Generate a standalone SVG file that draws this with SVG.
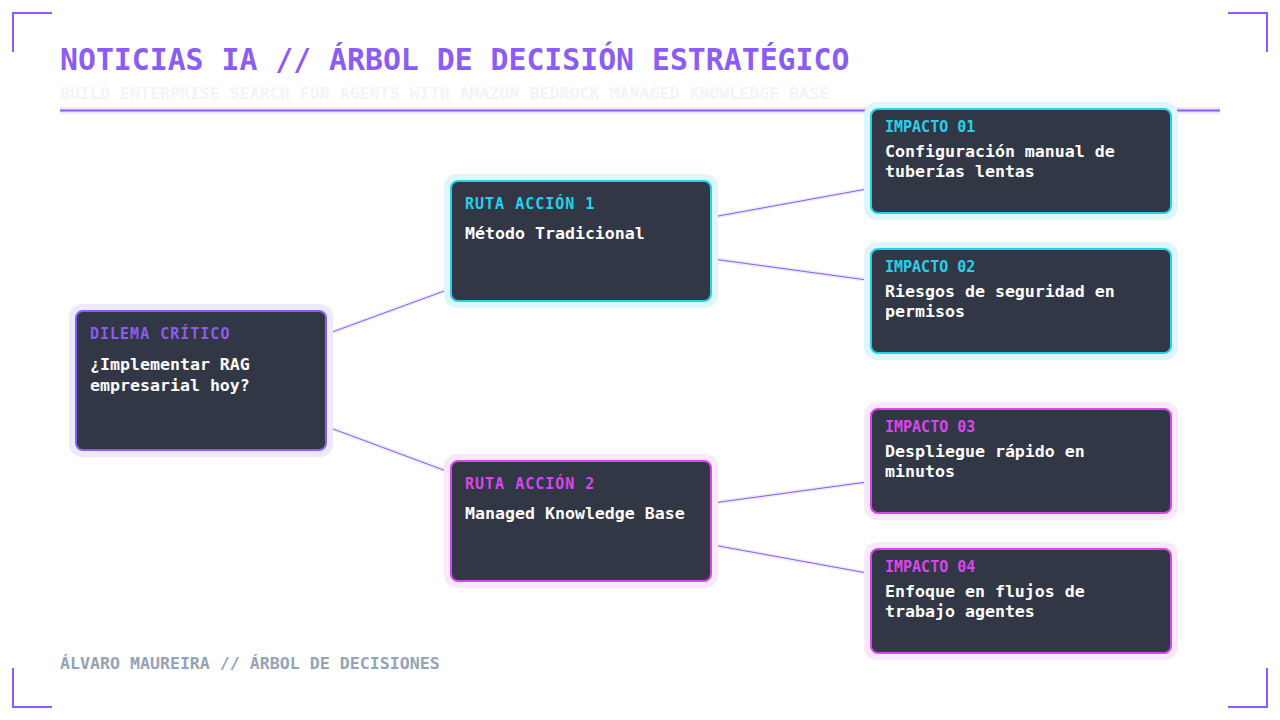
<svg xmlns="http://www.w3.org/2000/svg" width="1280" height="720" viewBox="0 0 1280 720">
<style>
text{font-family:"DejaVu Sans Mono","Liberation Mono",monospace;font-weight:bold}
.title{font-size:29.8px;fill:#8b5cf6}
.sub{font-size:16.6px;fill:#f3f4f7}
.foot{font-size:16.6px;fill:#94a3b8}
.lbl{font-size:15px;letter-spacing:1px}
.ilbl{font-size:15px}
.body{font-size:16.6px;fill:#ffffff}
.box{fill:#313745;stroke-width:2}
.p .box{stroke:#8b5cf6}.p .glow{fill:#ede9fe}.p .lbl,.p .ilbl{fill:#8b5cf6}
.c .box{stroke:#22d3ee}.c .glow{fill:#dff7fc}.c .lbl,.c .ilbl{fill:#22d3ee}
.m .box{stroke:#d946ef}.m .glow{fill:#fae8ff}.m .lbl,.m .ilbl{fill:#d946ef}
.corner{fill:none;stroke:#8b5cf6;stroke-width:2}
.cg{stroke:#ede9fe;stroke-width:4;fill:none}
.cl{stroke:#8b5cf6;stroke-width:1;fill:none}
</style>
<rect width="1280" height="720" fill="#ffffff"/>
<g id="corners">
<path class="corner" d="M13,52 V13 H52"/>
<path class="corner" d="M1228,13 H1267 V52"/>
<path class="corner" d="M13,668 V707 H52"/>
<path class="corner" d="M1267,668 V707 H1228"/>
</g>
<g id="header">
<text class="title" x="60" y="70">NOTICIAS IA // ÁRBOL DE DECISIÓN ESTRATÉGICO</text>
<text class="sub" x="60" y="99">BUILD ENTERPRISE SEARCH FOR AGENTS WITH AMAZON BEDROCK MANAGED KNOWLEDGE BASE</text>
<line x1="60" y1="110.5" x2="1220" y2="110.5" stroke="#ede9fe" stroke-width="7"/>
<line x1="60" y1="110.5" x2="1220" y2="110.5" stroke="#8b5cf6" stroke-width="2"/>
</g>
<g id="connectors">
<path class="cg" d="M201,380 L581,241 M201,380 L581,521 M581,241 L1021,161 M581,241 L1021,301 M581,521 L1021,461 M581,521 L1021,601"/>
<path class="cl" d="M201,380 L581,241 M201,380 L581,521 M581,241 L1021,161 M581,241 L1021,301 M581,521 L1021,461 M581,521 L1021,601"/>
</g>
<g id="dilema" class="p">
<rect class="glow" x="69" y="304" width="264" height="153" rx="13"/>
<rect class="box" x="76" y="311" width="250" height="139" rx="7"/>
<text class="lbl" x="90" y="339">DILEMA CRÍTICO</text>
<text class="body" x="90" y="370">¿Implementar RAG</text>
<text class="body" x="90" y="391">empresarial hoy?</text>
</g>
<g id="ruta1" class="c">
<rect class="glow" x="444" y="174" width="274" height="134" rx="13"/>
<rect class="box" x="451" y="181" width="260" height="120" rx="7"/>
<text class="lbl" x="465" y="209">RUTA ACCIÓN 1</text>
<text class="body" x="465" y="239">Método Tradicional</text>
</g>
<g id="ruta2" class="m">
<rect class="glow" x="444" y="454" width="274" height="134" rx="13"/>
<rect class="box" x="451" y="461" width="260" height="120" rx="7"/>
<text class="lbl" x="465" y="489">RUTA ACCIÓN 2</text>
<text class="body" x="465" y="519">Managed Knowledge Base</text>
</g>
<g id="impacto1" class="c">
<rect class="glow" x="864" y="102" width="314" height="118" rx="13"/>
<rect class="box" x="871" y="109" width="300" height="104" rx="7"/>
<text class="ilbl" x="885" y="132">IMPACTO 01</text>
<text class="body" x="885" y="157">Configuración manual de</text>
<text class="body" x="885" y="177">tuberías lentas</text>
</g>
<g id="impacto2" class="c">
<rect class="glow" x="864" y="242" width="314" height="118" rx="13"/>
<rect class="box" x="871" y="249" width="300" height="104" rx="7"/>
<text class="ilbl" x="885" y="272">IMPACTO 02</text>
<text class="body" x="885" y="297">Riesgos de seguridad en</text>
<text class="body" x="885" y="317">permisos</text>
</g>
<g id="impacto3" class="m">
<rect class="glow" x="864" y="402" width="314" height="118" rx="13"/>
<rect class="box" x="871" y="409" width="300" height="104" rx="7"/>
<text class="ilbl" x="885" y="432">IMPACTO 03</text>
<text class="body" x="885" y="457">Despliegue rápido en</text>
<text class="body" x="885" y="477">minutos</text>
</g>
<g id="impacto4" class="m">
<rect class="glow" x="864" y="542" width="314" height="118" rx="13"/>
<rect class="box" x="871" y="549" width="300" height="104" rx="7"/>
<text class="ilbl" x="885" y="572">IMPACTO 04</text>
<text class="body" x="885" y="597">Enfoque en flujos de</text>
<text class="body" x="885" y="617">trabajo agentes</text>
</g>
<g id="footer">
<text class="foot" x="60" y="669">ÁLVARO MAUREIRA // ÁRBOL DE DECISIONES</text>
</g>
</svg>
